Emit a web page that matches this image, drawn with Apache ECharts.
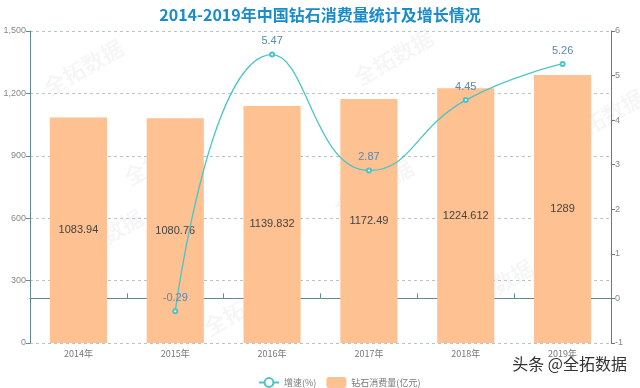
<!DOCTYPE html>
<html><head><meta charset="utf-8">
<script src="https://cdn.jsdelivr.net/npm/echarts@6/dist/echarts.min.js"></script>
<style>html,body{margin:0;padding:0;background:#fff}#c{width:640px;height:388px}</style>
</head><body><div id="c"></div>
<script>
const categories = ['2014年','2015年','2016年','2017年','2018年','2019年'];
const consumption = [1083.94, 1080.76, 1139.832, 1172.49, 1224.612, 1289];
const growth = [null, -0.29, 5.47, 2.87, 4.45, 5.26];
const leftTicks = [0, 300, 600, 900, 1200, 1500];
const rightTicks = [-1, 0, 1, 2, 3, 4, 5, 6];

const chart = echarts.init(document.getElementById('c'));
const wmStyle = {text:'全拓数据', fill:'rgba(0,0,0,0.035)', font:'bold 22px "Noto Sans CJK SC"'};
const wm = [[40,80],[350,70],[120,170],[60,250],[330,200],[560,130],[450,300],[200,320]].map(p=>({
  type:'text', x:p[0], y:p[1], rotation:Math.PI/6, silent:true, z:-1, style:Object.assign({}, wmStyle)
}));
chart.setOption({
  animation:false,
  title:{text:'2014-2019年中国钻石消费量统计及增长情况', left:'center', top:2,
    textStyle:{color:'#1a8ccc', fontSize:16, fontWeight:'bold', fontFamily:'"Noto Sans CJK SC"'}},
  grid:{left:30, right:29, top:31, bottom:45, containLabel:false},
  legend:{left:253, top:372, itemWidth:20, itemHeight:11, itemGap:10,
    textStyle:{color:'#777', fontSize:9, fontFamily:'"Noto Sans CJK SC"'},
    data:[{name:'增速(%)'},{name:'钻石消费量(亿元)'}]},
  xAxis:[{type:'category', data:categories, position:'bottom',
      axisLine:{show:false}, axisTick:{show:false},
      axisLabel:{color:'#777', fontSize:9, margin:6, fontFamily:'"Noto Sans CJK SC"'}},
    {type:'category', data:categories, axisLine:{onZero:true, onZeroAxisIndex:1, lineStyle:{color:'#5f8a96'}},
      axisTick:{show:true, lineStyle:{color:'#5f8a96'}}, axisLabel:{show:false}}],
  yAxis:[{type:'value', min:0, max:1500, interval:300,
      axisLine:{show:true, lineStyle:{color:'#5f8a96'}}, axisTick:{show:true, length:4},
      axisLabel:{color:'#888', fontSize:9, margin:4, formatter:v=>v.toLocaleString('en-US')},
      splitLine:{show:true, lineStyle:{type:[3,3], color:'#b8c4c8'}}},
    {type:'value', min:-1, max:6, interval:1,
      axisLine:{show:true, lineStyle:{color:'#607a8a'}}, axisTick:{show:true, length:4},
      axisLabel:{color:'#888', fontSize:9, margin:4},
      splitLine:{show:false}}],
  series:[
    {name:'钻石消费量(亿元)', type:'bar', xAxisIndex:0, yAxisIndex:0, data:consumption, barWidth:'59%',
      itemStyle:{color:'#fdc192'},
      label:{show:true, position:'inside', color:'#444', fontSize:11}},
    {name:'增速(%)', type:'line', xAxisIndex:0, yAxisIndex:1, data:growth, smooth:true,
      symbol:'emptyCircle', symbolSize:4, connectNulls:false,
      lineStyle:{color:'#4cc4c8', width:1.3}, itemStyle:{color:'#4cc4c8'},
      label:{show:true, position:'top', color:'#5a88b0', fontSize:11}}
  ],
  graphic: wm.concat([{type:'text', right:12, top:355, silent:true,
    style:{text:'头条 @全拓数据', fill:'#333', font:'16px "Noto Sans CJK SC"', stroke:'#fff', lineWidth:2}}])
});
</script></body></html>
